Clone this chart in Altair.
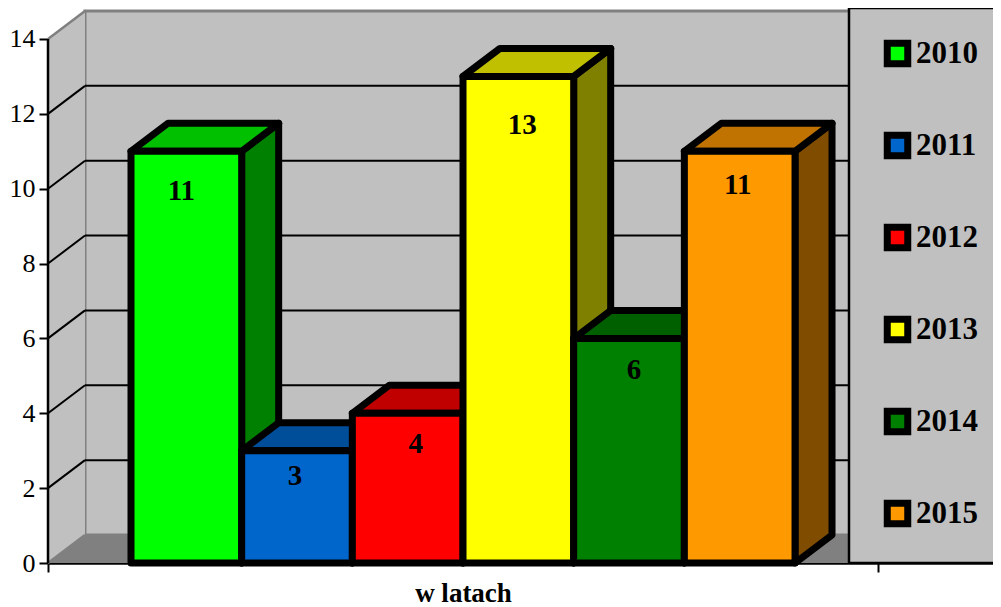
import altair as alt

# ---- values ----
years = ["2010", "2011", "2012", "2013", "2014", "2015"]
values = [11, 3, 4, 13, 6, 11]
front_colors = ["#00ff00", "#0066cc", "#ff0000", "#ffff00", "#008000", "#ff9900"]
top_colors = ["#00c000", "#004d99", "#c00000", "#c0c000", "#006000", "#c07300"]
side_colors = ["#008000", "#003366", "#800000", "#808000", "#004000", "#804d00"]
y_ticks = [0, 2, 4, 6, 8, 10, 12, 14]
x_title = "w latach"

# ---- layout ----
PX_X = 110.67   # pixels per bar
PX_Y = 37.43    # pixels per y unit
W, H = 945, 555
XMIN = -0.75
XEND = 6.75
XMAX = XMIN + W / PX_X
YMAX = H / PX_Y
DX = 37 / PX_X
DY = 28 / PX_Y
FONT = "Liberation Serif"
# pixel nudges of the value labels relative to the bar centre / top
label_dx = [-5, -2, 8, 4, 5, -2]
label_dy = [40, 25, 31, 49, 32, 34]

xs = alt.Scale(domain=[XMIN, XMAX], nice=False, zero=False)
ys = alt.Scale(domain=[0, YMAX], nice=False, zero=False)

x_axis = alt.Axis(
    values=[XMIN, XEND],
    labels=False,
    grid=False,
    domainColor="black",
    domainWidth=2.5,
    tickColor="black",
    tickWidth=2,
    tickSize=9,
    title=x_title,
    titleFont=FONT,
    titleFontSize=27,
    titleFontWeight="bold",
    titleColor="black",
    titleX=415,
    titleY=38,
    titleAlign="center",
    titleBaseline="alphabetic",
)
y_axis = alt.Axis(
    values=y_ticks,
    domain=False,
    grid=False,
    title=None,
    tickColor="black",
    tickWidth=2,
    tickSize=9,
    labelFont=FONT,
    labelFontSize=26,
    labelColor="black",
    labelPadding=4,
)


def X(f="x"):
    return alt.X(f"{f}:Q", scale=xs, axis=x_axis)


def Y(f="y"):
    return alt.Y(f"{f}:Q", scale=ys, axis=y_axis)


def D(rows):
    return alt.Data(values=rows)


layers = []

# back wall
layers.append(
    alt.Chart(D([{"x": XMIN + DX, "x2": XMAX, "y": DY, "y2": 14 + DY}]))
    .mark_rect(fill="#c0c0c0", stroke="#808080", strokeWidth=3)
    .encode(x=X(), x2="x2:Q", y=Y(), y2="y2:Q")
)

# left wall
layers.append(
    alt.Chart(
        D([
            {"x": XMIN, "y": 0, "y2": 14},
            {"x": XMIN + DX, "y": DY, "y2": 14 + DY},
        ])
    )
    .mark_area(fill="#c0c0c0", opacity=1, interpolate="linear")
    .encode(x=X(), y=Y(), y2="y2:Q")
)

# floor
layers.append(
    alt.Chart(
        D([
            {"y": 0, "x": XMIN, "x2": XMAX},
            {"y": DY, "x": XMIN + DX, "x2": XMAX},
        ])
    )
    .mark_area(orient="horizontal", fill="#808080", opacity=1, interpolate="linear")
    .encode(y=Y(), x=X(), x2="x2:Q")
)

# grid lines: back wall
layers.append(
    alt.Chart(D([{"x": XMIN + DX, "x2": XMAX, "y": v + DY} for v in y_ticks[1:-1]]))
    .mark_rule(color="black", strokeWidth=2)
    .encode(x=X(), x2="x2:Q", y=Y())
)

# grid lines: left wall diagonals
layers.append(
    alt.Chart(D([{"x": XMIN, "x2": XMIN + DX, "y": v, "y2": v + DY} for v in y_ticks[1:-1]]))
    .mark_rule(color="black", strokeWidth=2)
    .encode(x=X(), x2="x2:Q", y=Y(), y2="y2:Q")
)
# upper wall edge and floor edge
layers.append(
    alt.Chart(D([
        {"x": XMIN, "x2": XMIN + DX, "y": 14, "y2": 14 + DY},
        {"x": XMIN, "x2": XMIN + DX, "y": 0, "y2": DY},
    ]))
    .mark_rule(color="#808080", strokeWidth=2.5)
    .encode(x=X(), x2="x2:Q", y=Y(), y2="y2:Q")
)
# y axis line
layers.append(
    alt.Chart(D([{"x": XMIN, "y": 0, "y2": 14}]))
    .mark_rule(color="black", strokeWidth=2.5)
    .encode(x=X(), y=Y(), y2="y2:Q")
)

# legend panel (right border sits past the drawing area, as in the reference)
layers.append(
    alt.Chart(D([{"x": XMIN + (849 - 48) / PX_X, "x2": XMAX + 0.1, "y": 0, "y2": YMAX}]))
    .mark_rect(fill="#c0c0c0", stroke="black", strokeWidth=2.5, clip=True)
    .encode(x=X(), x2="x2:Q", y=Y(), y2="y2:Q")
)

# bars, painted left to right
bar_style = dict(stroke="black", strokeWidth=7, strokeJoin="round", opacity=1, interpolate="linear")
for i, (yr, v) in enumerate(zip(years, values)):
    left, right = float(i), float(i + 1)
    layers.append(
        alt.Chart(D([
            {"x": right, "y": 0, "y2": v},
            {"x": right + DX, "y": DY, "y2": v + DY},
        ]))
        .mark_area(fill=side_colors[i], **bar_style)
        .encode(x=X(), y=Y(), y2="y2:Q")
    )
    layers.append(
        alt.Chart(D([
            {"y": v, "x": left, "x2": right},
            {"y": v + DY, "x": left + DX, "x2": right + DX},
        ]))
        .mark_area(orient="horizontal", fill=top_colors[i], **bar_style)
        .encode(y=Y(), x=X(), x2="x2:Q")
    )
    layers.append(
        alt.Chart(D([{"year": yr, "x": left, "x2": right, "y": 0, "y2": v}]))
        .mark_rect(stroke="black", strokeWidth=7, strokeJoin="round")
        .encode(
            x=X(),
            x2="x2:Q",
            y=Y(),
            y2="y2:Q",
            color=alt.Color(
                "year:N",
                scale=alt.Scale(domain=years, range=front_colors),
                legend=alt.Legend(
                    orient="none",
                    legendX=834,
                    legendY=30,
                    title=None,
                    padding=0,
                    symbolType="square",
                    symbolSize=420,
                    symbolStrokeColor="black",
                    symbolStrokeWidth=7,
                    symbolOpacity=1,
                    labelFont=FONT,
                    labelFontSize=31,
                    labelFontWeight="bold",
                    labelColor="black",
                    labelOffset=3,
                    labelLimit=100,
                    rowPadding=43,
                ),
            ),
        )
    )

# value labels
for i, v in enumerate(values):
    layers.append(
        alt.Chart(D([{"x": i + 0.5, "y": v, "label": str(v)}]))
        .mark_text(
            font=FONT,
            fontSize=29,
            fontWeight="bold",
            color="black",
            align="center",
            baseline="middle",
            dx=label_dx[i],
            dy=label_dy[i],
        )
        .encode(x=X(), y=Y(), text="label:N")
    )

chart = alt.layer(*layers).properties(
    width=W,
    height=H,
    padding={"left": 40, "top": 0, "right": 0, "bottom": 44},
    autosize=alt.AutoSizeParams(type="none"),
    background="white",
).configure_view(stroke=None)

chart.save("out.html", embed_options={"renderer": "svg", "actions": False})
